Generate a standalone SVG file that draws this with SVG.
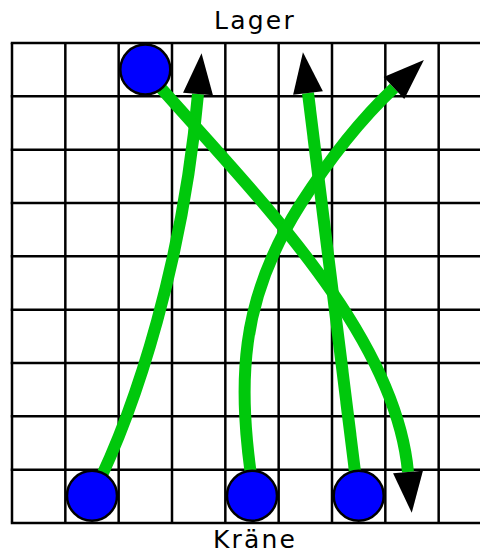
<svg xmlns="http://www.w3.org/2000/svg" width="480" height="550" viewBox="0 0 480 550">
<defs>
<style>
.grid line{stroke:#000;stroke-width:2.5}
.conn path{fill:none;stroke:#00c80c;stroke-width:12;stroke-linecap:butt;marker-end:url(#ah)}
.node circle{fill:#0000ff;stroke:#000;stroke-width:2.5}
.lbl{font-family:"DejaVu Sans",sans-serif;font-size:25px;letter-spacing:2.2px;fill:#000;text-anchor:middle}
</style>
<marker id="ah" markerUnits="userSpaceOnUse" markerWidth="42" markerHeight="32" viewBox="0 -16 42 32" refX="0" refY="0" orient="auto" overflow="visible">
<path d="M0,-15 L41,0 L0,15 z" fill="#000"/>
</marker>
</defs>
<rect width="480" height="550" fill="#fff"/>
<g class="grid" id="grid">
<line x1="12" y1="43" x2="12" y2="522.3"/>
<line x1="65.33" y1="43" x2="65.33" y2="522.3"/>
<line x1="118.67" y1="43" x2="118.67" y2="522.3"/>
<line x1="172" y1="43" x2="172" y2="522.3"/>
<line x1="225.33" y1="43" x2="225.33" y2="522.3"/>
<line x1="278.67" y1="43" x2="278.67" y2="522.3"/>
<line x1="332" y1="43" x2="332" y2="522.3"/>
<line x1="385.33" y1="43" x2="385.33" y2="522.3"/>
<line x1="438.67" y1="43" x2="438.67" y2="522.3"/>
<line x1="10.75" y1="43" x2="480" y2="43"/>
<line x1="10.75" y1="96.33" x2="480" y2="96.33"/>
<line x1="10.75" y1="149.67" x2="480" y2="149.67"/>
<line x1="10.75" y1="203" x2="480" y2="203"/>
<line x1="10.75" y1="256.33" x2="480" y2="256.33"/>
<line x1="10.75" y1="309.67" x2="480" y2="309.67"/>
<line x1="10.75" y1="363" x2="480" y2="363"/>
<line x1="10.75" y1="416.33" x2="480" y2="416.33"/>
<line x1="10.75" y1="469.67" x2="480" y2="469.67"/>
<line x1="10.75" y1="523" x2="480" y2="523"/>
</g>
<g class="conn" id="connectors">
<path id="c1" d="M92,496 C138,405 184,255 198,94"/>
<path id="c2" d="M145,70 C250,190 395,330 408,472"/>
<path id="c3" d="M254,496 C236,380 240,300 300,205 C330,158 360,120 394,88"/>
<path id="c4" d="M358,496 L308,93"/>
</g>
<g class="node" id="lager-node"><circle cx="145.3" cy="69.5" r="25"/></g>
<g class="node" id="kran-1"><circle cx="92" cy="495.7" r="25"/></g>
<g class="node" id="kran-2"><circle cx="252" cy="495.7" r="25"/></g>
<g class="node" id="kran-3"><circle cx="358.7" cy="495.7" r="25"/></g>
<text class="lbl" x="255" y="29">Lager</text>
<text class="lbl" x="255" y="548">Kräne</text>
</svg>
